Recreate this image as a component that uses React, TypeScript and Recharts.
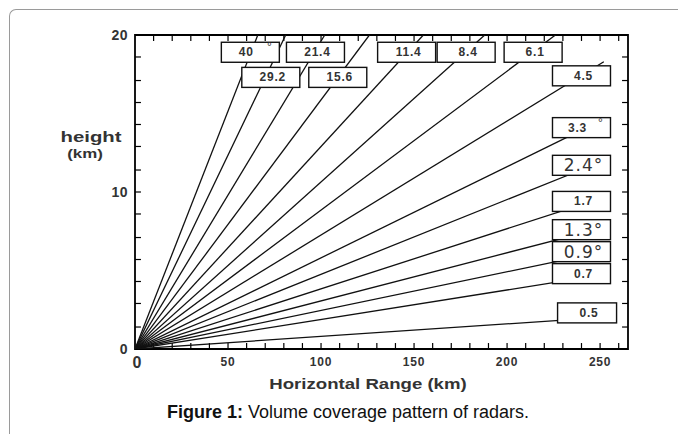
import React from "react";
import {
  ComposedChart,
  Line,
  Scatter,
  XAxis,
  YAxis,
  ReferenceArea,
  ReferenceLine,
} from "recharts";

// elevation angles (deg), one ray each
const angleLabels = ["0.5", "0.7", "0.9", "1.3", "1.7", "2.4", "3.3", "4.5", "6.1", "8.4", "11.4", "15.6", "21.4", "29.2", "40"];
// far end of each ray (range km, height km)
const rayEndX = [250, 250, 248, 248, 248, 248, 248, 252, 226, 188, 155, 126, 102, 81, 66];
const rayEndY = [2.0, 4.7, 6.1, 7.6, 9.5, 11.8, 14.4, 18.3, 20, 20, 20, 20, 20, 20, 20];
// label boxes (centre, in km)
const boxX = [243, 240, 240, 240, 240, 240, 240, 240, 214, 178, 146, 109, 97, 73, 62];
const boxY = [2.3, 4.8, 6.2, 7.6, 9.4, 11.7, 14.1, 17.4, 18.9, 18.9, 18.9, 17.3, 18.9, 17.3, 18.9];
const boxText = ["0.5", "0.7", "0.9°", "1.3°", "1.7", "2.4°", "3.3", "4.5", "6.1", "8.4", "11.4", "15.6", "21.4", "29.2", "40"];
const bigLabels = ["0.9°", "1.3°", "2.4°"];
const supLabels = ["40", "3.3"];

const xTicks = [0, 50, 100, 150, 200, 250];
const yTicks = [0, 10, 20];
const xMinor = [10, 20, 30, 40, 50, 60, 70, 80, 90, 100, 110, 120, 130, 140, 150, 160, 170, 180, 190, 200, 210, 220, 230, 240, 250, 260];
const yMinor = [1.4, 2.9, 4.3, 5.7, 7.1, 8.6, 10, 11.4, 12.9, 14.3, 15.7, 17.1, 18.6];

const X_MAX = 265;
const Y_MAX = 20;

const rays = angleLabels.map((a, i) => ({
  angle: a,
  data: [
    { x: 0, y: 0 },
    { x: rayEndX[i], y: rayEndY[i] },
  ],
}));

const boxes = boxText.map((t, i) => ({ x: boxX[i], y: boxY[i], text: t }));

const font = "'Liberation Sans', Arial, sans-serif";

const LabelBox = (props: any) => {
  const { cx, cy, payload } = props;
  const t: string = payload.text;
  const w = t === "0.5" ? 59 : 58;
  const h = 20;
  const big = bigLabels.includes(t);
  const sup = supLabels.includes(t);
  return (
    <g>
      <rect x={cx - w / 2} y={cy - h / 2} width={w} height={h} fill="#fff" stroke="#111" strokeWidth={1.4} />
      {big ? (
        <text x={cx + 2} y={cy + 6} textAnchor="middle" fontFamily="'DejaVu Sans', sans-serif" fontSize={17} fill="#333" letterSpacing={1}>
          {t}
        </text>
      ) : (
        <text x={cx + (sup ? -4 : 2)} y={cy + 4} textAnchor="middle" fontFamily={font} fontWeight="bold" fontSize={12} fill="#333" letterSpacing={0.8}>
          {t}
        </text>
      )}
      {sup && (
        <text x={cx + 19} y={cy - 1} textAnchor="middle" fontFamily={font} fontSize={12} fill="#333">
          °
        </text>
      )}
    </g>
  );
};

const XTick = (props: any) => {
  const { x, y, payload } = props;
  const zero = payload.value === 0;
  return (
    <text x={x + (zero ? 2 : 0)} y={y + (zero ? 11 : 9)} textAnchor="middle" fontFamily={font} fontWeight="bold" fontSize={zero ? 16 : 12} fill="#333" letterSpacing={zero ? 0 : 0.8}>
      {payload.value}
    </text>
  );
};

const stretch = (s: number): React.CSSProperties => ({ transform: `scaleX(${s})`, transformOrigin: "center" });

export default function App() {
  return (
    <div style={{ position: "absolute", left: 0, top: 0, width: 678, height: 434, background: "#fff", overflow: "hidden" }}>
      <div
        style={{
          position: "absolute",
          left: 9,
          top: 9,
          width: 720,
          height: 480,
          borderTop: "1px solid #9a9a9a",
          borderLeft: "1px solid #9a9a9a",
          borderTopLeftRadius: 7,
        }}
      />
      <div style={{ position: "absolute", left: 0, top: 0 }}>
        <ComposedChart width={678} height={434} margin={{ top: 35, right: 50, bottom: 55, left: 105 }}>
          <XAxis
            type="number"
            dataKey="x"
            domain={[0, X_MAX]}
            ticks={xTicks}
            allowDataOverflow
            axisLine={false}
            tickLine={false}
            height={30}
            tick={<XTick />}
          />
          <YAxis
            type="number"
            dataKey="y"
            domain={[0, Y_MAX]}
            ticks={yTicks}
            allowDataOverflow
            axisLine={false}
            tickLine={false}
            width={30}
            tickMargin={1}
            tick={{ fontFamily: font, fontWeight: "bold", fontSize: 14, fill: "#333", letterSpacing: 0.5 }}
          />
          <ReferenceArea x1={0} x2={X_MAX} y1={0} y2={Y_MAX} fill="none" stroke="#000" strokeWidth={1.8} />
          {xMinor.map((v) => (
            <ReferenceLine key={"b" + v} segment={[{ x: v, y: 0 }, { x: v, y: 0.38 }]} stroke="#000" strokeWidth={1.2} />
          ))}
          {xMinor.map((v) => (
            <ReferenceLine key={"t" + v} segment={[{ x: v, y: Y_MAX }, { x: v, y: Y_MAX - 0.38 }]} stroke="#000" strokeWidth={1.2} />
          ))}
          {yMinor.map((v) => (
            <ReferenceLine key={"l" + v} segment={[{ x: 0, y: v }, { x: 3.2, y: v }]} stroke="#000" strokeWidth={1.2} />
          ))}
          {yMinor.map((v) => (
            <ReferenceLine key={"r" + v} segment={[{ x: X_MAX, y: v }, { x: X_MAX - 3.2, y: v }]} stroke="#000" strokeWidth={1.2} />
          ))}
          {rays.map((r) => (
            <Line
              key={r.angle}
              data={r.data}
              dataKey="y"
              stroke="#111"
              strokeWidth={1.3}
              dot={false}
              activeDot={false}
              isAnimationActive={false}
            />
          ))}
          <Scatter data={boxes} dataKey="y" shape={<LabelBox />} isAnimationActive={false} />
        </ComposedChart>
      </div>
      <div style={{ position: "absolute", left: 56, top: 129, width: 70, textAlign: "center", fontFamily: font, fontWeight: "bold", fontSize: 14, color: "#333", ...stretch(1.45) }}>
        height
      </div>
      <div style={{ position: "absolute", left: 55, top: 146, width: 60, textAlign: "center", fontFamily: font, fontWeight: "bold", fontSize: 13, color: "#333", ...stretch(1.3) }}>
        (km)
      </div>
      <div style={{ position: "absolute", left: 168, top: 375, width: 400, textAlign: "center", fontFamily: font, fontWeight: "bold", fontSize: 15, color: "#333", ...stretch(1.24) }}>
        Horizontal Range (km)
      </div>
      <div style={{ position: "absolute", left: 0, top: 402, width: 696, textAlign: "center", fontFamily: font, fontSize: 18, color: "#111" }}>
        <b>Figure 1:</b> Volume coverage pattern of radars.
      </div>
    </div>
  );
}
